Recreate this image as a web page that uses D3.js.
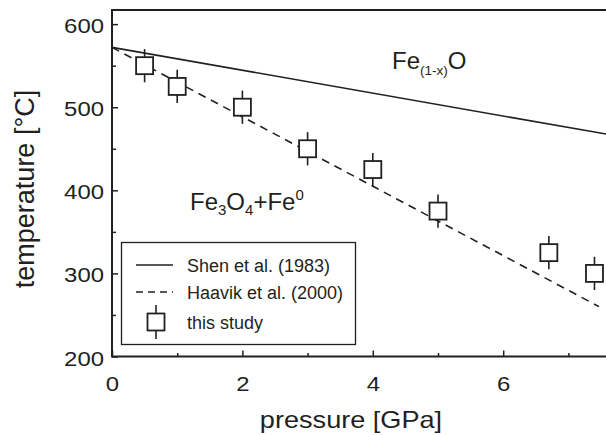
<!DOCTYPE html>
<html>
<head>
<meta charset="utf-8">
<script src="https://cdn.jsdelivr.net/npm/d3@7"></script>
<style>
  body { margin: 0; background: #fff; }
  svg { display: block; }
</style>
</head>
<body>
<div id="chart"></div>
<script>
// data
var pressure = [0.5, 1, 2, 3, 4, 5, 6.7, 7.4];
var temperature = [550, 525, 500, 450, 425, 375, 325, 300];
var tempError = [20, 20, 20, 20, 20, 20, 20, 20];

var shenLine = [[0, 572], [7.7, 466]];
var haavikLine = [[0, 572], [7.47, 260]];

var xTicks = [0, 2, 4, 6];
var xMinor = [1, 3, 5, 7];
var yTicks = [200, 300, 400, 500, 600];
var yMinor = [250, 350, 450, 550];

var legendLabels = ['Shen et al. (1983)', 'Haavik et al. (2000)', 'this study'];

var width = 606,
    height = 435;

// plot area (note: "top" is reserved on window, so use other names)
var plotLeft = 112,
    plotRight = 601,
    plotTop = 10,
    plotBottom = 356.5;

var ink = '#231f20';
var fontFamily = '"Liberation Sans", Arial, Helvetica, sans-serif';

// the original lettering is a bit wider than Liberation Sans
var tickStretch = 1.14,
    titleStretch = 1.13;

var x = d3.scaleLinear().domain([0, 7.5]).range([plotLeft, plotRight]);
var y = d3.scaleLinear().domain([200, 617]).range([plotBottom, plotTop]);

var svg = d3.select('#chart')
  .append('svg')
  .attr('width', width)
  .attr('height', height)
  .style('font-family', fontFamily);

// reference lines
var line = d3.line().x(function(d) { return x(d[0]); }).y(function(d) { return y(d[1]); });

svg.append('path')
  .datum(shenLine)
  .attr('d', line)
  .attr('fill', 'none')
  .attr('stroke', ink)
  .attr('stroke-width', 1.6);

svg.append('path')
  .datum(haavikLine)
  .attr('d', line)
  .attr('fill', 'none')
  .attr('stroke', ink)
  .attr('stroke-width', 1.6)
  .attr('stroke-dasharray', '8,6');

// data points: square with error bar
var half = 8.5;
var pts = svg.append('g').selectAll('g')
  .data(pressure.map(function(p, i) { return { p: p, t: temperature[i], e: tempError[i] }; }))
  .enter().append('g');

pts.append('line')
  .attr('x1', function(d) { return x(d.p); })
  .attr('x2', function(d) { return x(d.p); })
  .attr('y1', function(d) { return y(d.t + d.e); })
  .attr('y2', function(d) { return y(d.t - d.e); })
  .attr('stroke', ink)
  .attr('stroke-width', 1.6);

pts.append('rect')
  .attr('x', function(d) { return x(d.p) - half; })
  .attr('y', function(d) { return y(d.t) - half; })
  .attr('width', half * 2)
  .attr('height', half * 2)
  .attr('fill', '#fff')
  .attr('stroke', ink)
  .attr('stroke-width', 1.8);

// axes (ticks pointing inward)
svg.append('g')
  .attr('transform', 'translate(0,' + plotBottom + ')')
  .call(d3.axisTop(x).tickValues(xMinor).tickSize(3.5).tickFormat(''))
  .call(function(g) { g.select('.domain').remove(); });

svg.append('g')
  .attr('transform', 'translate(0,' + plotBottom + ')')
  .call(d3.axisTop(x).tickValues(xTicks).tickSize(6).tickFormat(''))
  .call(function(g) { g.select('.domain').remove(); });

svg.append('g')
  .attr('transform', 'translate(' + plotLeft + ',0)')
  .call(d3.axisRight(y).tickValues(yMinor).tickSize(4).tickFormat(''))
  .call(function(g) { g.select('.domain').remove(); });

svg.append('g')
  .attr('transform', 'translate(' + plotLeft + ',0)')
  .call(d3.axisRight(y).tickValues(yTicks).tickSize(6).tickFormat(''))
  .call(function(g) { g.select('.domain').remove(); });

svg.selectAll('.tick line').attr('stroke', ink).attr('stroke-width', 1.5);

// tick labels
svg.append('g').selectAll('text')
  .data(xTicks)
  .enter().append('text')
  .attr('transform', function(d) { return 'translate(' + (x(d) + 0.5) + ',391) scale(' + tickStretch + ',1)'; })
  .attr('text-anchor', 'middle')
  .attr('font-size', 21)
  .attr('fill', ink)
  .text(function(d) { return d; });

svg.append('g').selectAll('text')
  .data(yTicks)
  .enter().append('text')
  .attr('transform', function(d) { return 'translate(104,' + (y(d) + 9) + ') scale(' + tickStretch + ',1)'; })
  .attr('text-anchor', 'end')
  .attr('font-size', 21)
  .attr('fill', ink)
  .text(function(d) { return d; });

// frame: left, bottom, top
svg.append('path')
  .attr('d', 'M' + (width + 5) + ',' + plotTop + 'H' + plotLeft + 'V' + plotBottom + 'H' + (width + 5))
  .attr('fill', 'none')
  .attr('stroke', ink)
  .attr('stroke-width', 2);

// axis titles
svg.append('text')
  .attr('transform', 'translate(351,428) scale(' + titleStretch + ',1)')
  .attr('text-anchor', 'middle')
  .attr('font-size', 24)
  .attr('fill', ink)
  .text('pressure [GPa]');

svg.append('text')
  .attr('transform', 'translate(34,189) rotate(-90)')
  .attr('text-anchor', 'middle')
  .attr('font-size', 27)
  .attr('fill', ink)
  .text('temperature [°C]');

// phase labels
var fe1 = svg.append('text')
  .attr('x', 392)
  .attr('y', 68.5)
  .attr('font-size', 24)
  .attr('fill', ink);
fe1.append('tspan').text('Fe');
fe1.append('tspan').attr('font-size', 13.5).attr('dy', 6.5).text('(1-x)');
fe1.append('tspan').attr('dy', -6.5).text('O');

var fe2 = svg.append('text')
  .attr('x', 190)
  .attr('y', 210)
  .attr('font-size', 24)
  .attr('fill', ink);
fe2.append('tspan').text('Fe');
fe2.append('tspan').attr('font-size', 15).attr('dy', 5).text('3');
fe2.append('tspan').attr('dy', -5).text('O');
fe2.append('tspan').attr('font-size', 15).attr('dy', 5).text('4');
fe2.append('tspan').attr('dy', -5).text('+Fe');
fe2.append('tspan').attr('font-size', 15).attr('dy', -10).text('0');

// legend
var legend = svg.append('g');
legend.append('rect')
  .attr('x', 121.5)
  .attr('y', 242.5)
  .attr('width', 234)
  .attr('height', 102)
  .attr('fill', '#fff')
  .attr('stroke', ink)
  .attr('stroke-width', 1.3);

var rowY = [265, 292, 322];
legend.append('line')
  .attr('x1', 136).attr('x2', 173)
  .attr('y1', rowY[0]).attr('y2', rowY[0])
  .attr('stroke', ink).attr('stroke-width', 1.6);
legend.append('line')
  .attr('x1', 136).attr('x2', 173)
  .attr('y1', rowY[1]).attr('y2', rowY[1])
  .attr('stroke', ink).attr('stroke-width', 1.6)
  .attr('stroke-dasharray', '7,5');
legend.append('line')
  .attr('x1', 156).attr('x2', 156)
  .attr('y1', rowY[2] - 17).attr('y2', rowY[2] + 17)
  .attr('stroke', ink).attr('stroke-width', 1.6);
legend.append('rect')
  .attr('x', 156 - half).attr('y', rowY[2] - half)
  .attr('width', half * 2).attr('height', half * 2)
  .attr('fill', '#fff')
  .attr('stroke', ink).attr('stroke-width', 1.8);

legend.selectAll('text.lab')
  .data(legendLabels)
  .enter().append('text')
  .attr('class', 'lab')
  .attr('x', 187)
  .attr('y', function(d, i) { return rowY[i] + 6.5; })
  .attr('font-size', 18)
  .attr('fill', ink)
  .text(function(d) { return d; });
</script>
</body>
</html>
